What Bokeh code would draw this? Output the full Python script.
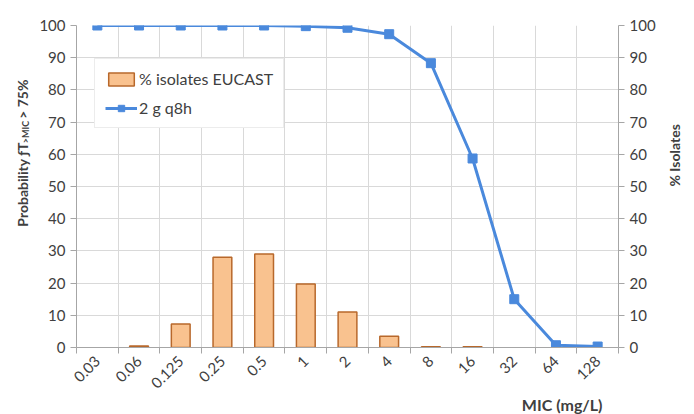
import math
from bokeh.plotting import figure
from bokeh.layouts import row
from bokeh.core.properties import value
from bokeh.models import (Range1d, LinearAxis, FixedTicker, ColumnDataSource, Legend,
                          LegendItem, CDSView, BooleanFilter, Title)
from bokeh.embed import file_html
from bokeh.resources import INLINE

mic_labels = ["0.03", "0.06", "0.125", "0.25", "0.5", "1", "2", "4", "8", "16", "32", "64", "128"]
pct_isolates = [0, 0.5, 7.3, 28, 29, 19.7, 11, 3.5, 0.2, 0.2, 0, 0, 0]
prob_2g_q8h = [100, 100, 100, 100, 100, 99.8, 99.3, 97.3, 88.3, 58.7, 15, 0.7, 0.3]
y_ticks = [0, 10, 20, 30, 40, 50, 60, 70, 80, 90, 100]

FONT = "Lato"
TXT = "#404040"
AX = "#A6A6A6"
GRID = "#D9D9D9"
LEFT_W = 36

n = len(mic_labels)
xc = [i + 0.5 for i in range(n)]
src = ColumnDataSource(dict(x=xc, bar=pct_isolates, line=prob_2g_q8h))
has_bar = CDSView(filter=BooleanFilter([v > 0 for v in pct_isolates]))

p = figure(width=694 - LEFT_W, height=414, output_backend="svg", toolbar_location=None,
           x_range=Range1d(0, n), y_range=Range1d(0, 100),
           min_border_left=74 - LEFT_W, min_border_right=68, min_border_top=25, min_border_bottom=67)
p.outline_line_color = None
p.background_fill_color = "white"
p.border_fill_color = "white"

bars = p.vbar(x="x", top="bar", width=0.45, source=src, view=has_bar, fill_color="#F9C28F",
              line_color="#B8682B", line_width=1.5)
ln = p.line(x="x", y="line", source=src, line_color="#4A89DC", line_width=3)
sc = p.scatter(x="x", y="line", source=src, marker="square", size=9,
               fill_color="#4A89DC", line_color="#4A89DC")

# x axis: labels at centers, tick marks at boundaries
xax = p.xaxis[0]
xax.ticker = FixedTicker(ticks=xc, minor_ticks=list(range(n + 1)))
xax.major_label_overrides = {c: l for c, l in zip(xc, mic_labels)}
xax.major_tick_out = 0
xax.major_tick_in = 0
xax.minor_tick_out = 6
xax.minor_tick_in = 0
xax.minor_tick_line_color = AX
xax.axis_line_color = AX
xax.major_label_orientation = math.pi / 4
xax.major_label_text_font = FONT
xax.major_label_text_font_size = "15px"
xax.major_label_text_color = TXT

yax = p.yaxis[0]
yax.ticker = FixedTicker(ticks=y_ticks, minor_ticks=[])
yax.axis_line_color = AX
yax.major_tick_line_color = AX
yax.major_tick_out = 6
yax.major_tick_in = 0
yax.minor_tick_line_color = None
yax.major_label_text_font = FONT
yax.major_label_text_font_size = "15px"
yax.major_label_text_color = TXT

rax = LinearAxis(ticker=FixedTicker(ticks=y_ticks, minor_ticks=[]))
rax.axis_line_color = AX
rax.major_tick_line_color = AX
rax.major_tick_out = 6
rax.major_tick_in = 0
rax.minor_tick_line_color = None
rax.major_label_text_font = FONT
rax.major_label_text_font_size = "15px"
rax.major_label_text_color = TXT
rax.axis_label = "% Isolates"
rax.axis_label_orientation = math.pi / 2
rax.axis_label_text_font = FONT
rax.axis_label_text_font_style = "bold"
rax.axis_label_text_font_size = "14px"
rax.axis_label_text_color = TXT
rax.axis_label_standoff = 16
p.add_layout(rax, "right")

p.xgrid.ticker = FixedTicker(ticks=list(range(n + 1)), minor_ticks=[])
p.xgrid.grid_line_color = GRID
p.ygrid.ticker = FixedTicker(ticks=y_ticks, minor_ticks=[])
p.ygrid.grid_line_color = GRID

p.add_layout(Title(text="MIC (mg/L)", align="right", offset=16, text_font=FONT,
                   text_font_size="16px", text_font_style="bold", text_color=TXT,
                   standoff=-7), "below")

legend = Legend(items=[LegendItem(label="% isolates EUCAST", renderers=[bars]),
                       LegendItem(label="2 g q8h", renderers=[ln, sc])],
                location=(18, 219))
legend.label_text_font = FONT
legend.label_text_font_size = "16px"
legend.label_text_color = TXT
legend.border_line_color = GRID
legend.glyph_width = 32
legend.glyph_height = 16
legend.spacing = 10
legend.padding = 10
legend.margin = 0
legend.label_standoff = 2
legend.background_fill_alpha = 1
p.add_layout(legend, "center")

# left strip holding the y axis title with its subscript
t = figure(width=LEFT_W, height=414, output_backend="svg", toolbar_location=None,
           x_range=Range1d(0, LEFT_W), y_range=Range1d(0, 414),
           min_border=0, min_border_left=0, min_border_right=0, min_border_top=0,
           min_border_bottom=0)
t.axis.visible = False
t.grid.visible = False
t.outline_line_color = None
t.border_fill_color = "white"
t.background_fill_color = "white"
ttl_parts = ["Probability \u0192T", ">MIC", "> 75%"]
ttl_x = [22, 25, 22]
ttl_py = [150, 137, 120]
ttl_align = ["right", "center", "left"]
ttl_size = ["14px", "9px", "14px"]
for txt, x, py, al, sz in zip(ttl_parts, ttl_x, ttl_py, ttl_align, ttl_size):
    t.text(x=[x], y=[414 - py], text=[txt], angle=math.pi / 2, text_align=al,
           text_baseline="middle", text_font=value(FONT), text_font_style="bold",
           text_font_size=sz, text_color=TXT)

layout = row(t, p, spacing=0)
open("out.html", "w").write(file_html(layout, INLINE))
